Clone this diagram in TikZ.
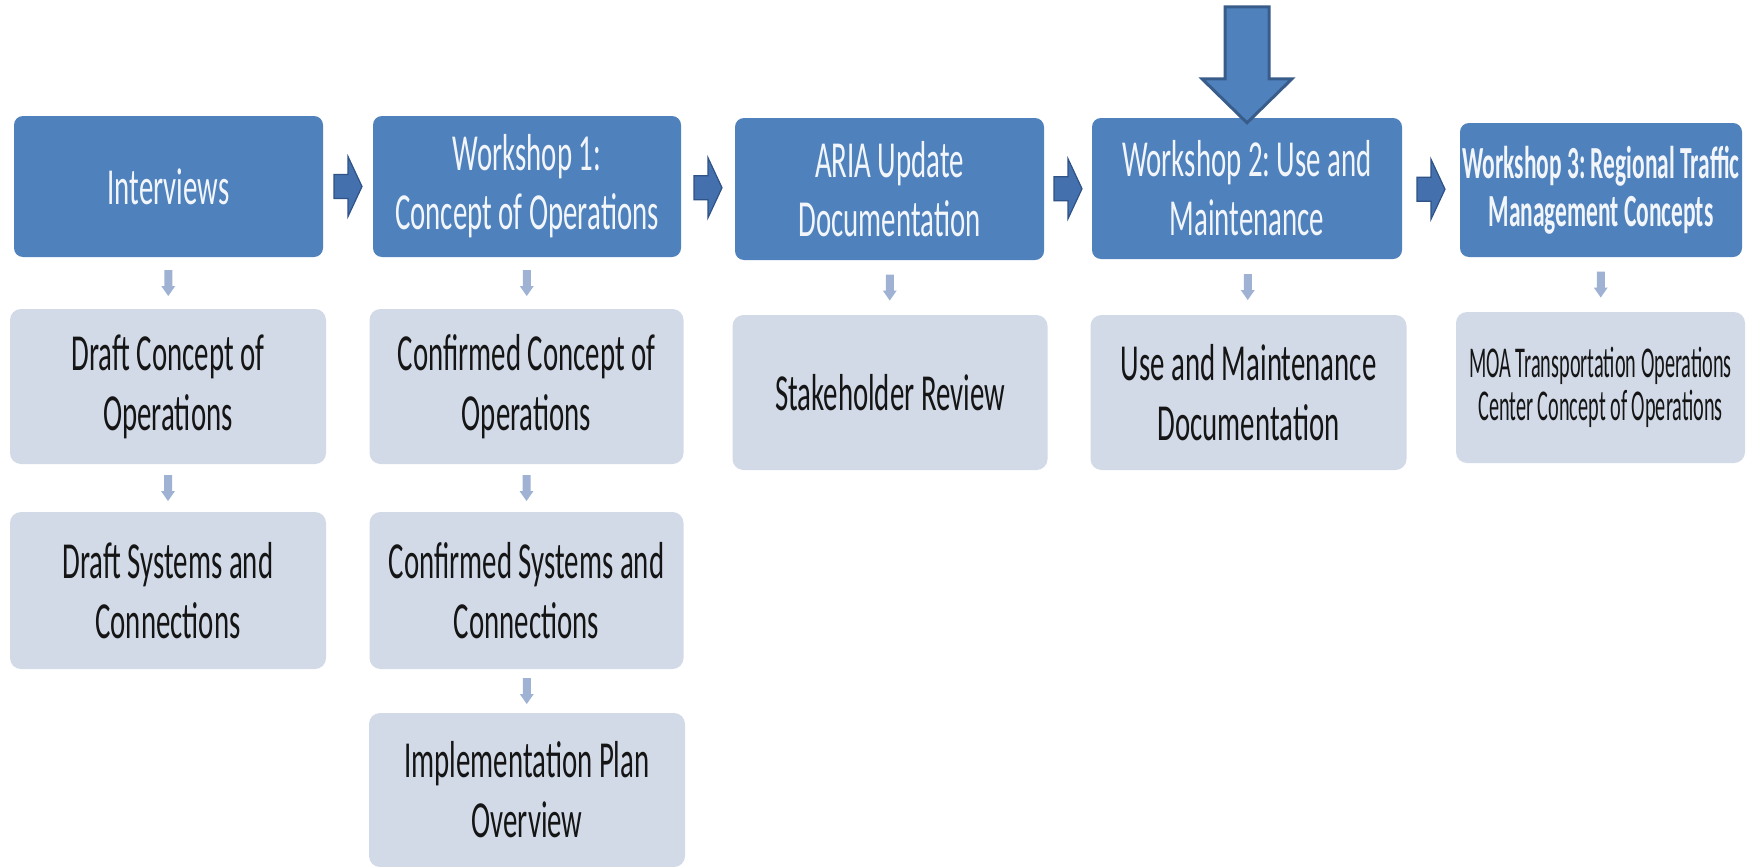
\documentclass[tikz,border=0pt]{standalone}
\usepackage{fontspec}
\newfontfamily\calfont[FakeStretch=0.555]{Carlito}
\newfontfamily\wthreefont[FakeStretch=0.51]{Carlito}
\newfontfamily\moafont[FakeStretch=0.46]{Carlito}
\usetikzlibrary{calc}
\frenchspacing
\definecolor{boxblue}{HTML}{4F81BD}
\definecolor{boxgray}{HTML}{D2DAE8}
\definecolor{textdark}{HTML}{151515}
\definecolor{textlight}{HTML}{F2F6FB}
\definecolor{arrowblue}{HTML}{4470AD}
\definecolor{arrowedge}{HTML}{2F5287}
\definecolor{smallarrow}{HTML}{9FB2D3}
\definecolor{bigedge}{HTML}{385D8A}
\tikzset{
  bluebox/.style={fill=boxblue, draw=none, rounded corners=9pt, text=textlight, align=center, inner sep=0pt,
    font=\calfont\frenchspacing\fontsize{52}{59}\selectfont},
  graybox/.style={fill=boxgray, draw=none, rounded corners=11pt, text=textdark, align=center, inner sep=0pt,
    font=\calfont\frenchspacing\fontsize{52}{60}\selectfont},
  harrow/.style={fill=arrowblue, draw=arrowedge, line width=1.2pt, line join=miter},
  darrow/.style={fill=smallarrow, draw=none},
  bigarrow/.style={fill=boxblue, draw=bigedge, line width=3pt, line join=miter},
  harr/.pic={\path[harrow] (-14,-12) -- (0,-12) -- (0,-30) -- (14,0) -- (0,30) -- (0,12) -- (-14,12) -- cycle;},
  darr/.pic={\path[darrow] (-4,-13) -- (4,-13) -- (4,3) -- (7,3) -- (0,13) -- (-7,3) -- (-4,3) -- cycle;},
  bigarr/.pic={\path[bigarrow] (-22,-116) -- (22,-116) -- (22,-44) -- (45,-44) -- (0,0) -- (-45,-44) -- (-22,-44) -- cycle;}
}
\begin{document}
\begin{tikzpicture}[x=1pt, y=-1pt]
\useasboundingbox[fill=white] (0,0) rectangle (1756,867);
% top row
\node[bluebox, minimum width=309pt, minimum height=141pt] (int) at (168.5,186.5) {Interviews};
\node[bluebox, minimum width=308pt, minimum height=141pt] (ws1) at (527,186.5) {Workshop 1:\\Concept of Operations};
\node[bluebox, minimum width=309pt, minimum height=142pt] (aria) at (889.5,189) {ARIA Update\\Documentation};
\node[bluebox, minimum width=310pt, minimum height=141pt] (ws2) at (1247,188.5) {Workshop 2: Use and\\Maintenance};
\node[bluebox, minimum width=282pt, minimum height=134pt,
  font=\wthreefont\frenchspacing\bfseries\fontsize{46}{48}\selectfont] (ws3) at (1601,190) {Workshop 3: Regional Traffic\\Management Concepts};
% second row
\node[graybox, minimum width=316pt, minimum height=155pt] (dco) at (168,386.5) {Draft Concept of\\Operations};
\node[graybox, minimum width=314pt, minimum height=155pt] (cco) at (526.5,386.5) {Confirmed Concept of\\Operations};
\node[graybox, minimum width=315pt, minimum height=155pt] (srv) at (890,392.5) {Stakeholder Review};
\node[graybox, minimum width=316pt, minimum height=155pt] (umd) at (1248.5,392.5) {Use and Maintenance\\Documentation};
\node[graybox, minimum width=289pt, minimum height=151pt,
  font=\moafont\frenchspacing\fontsize{44}{43}\selectfont] (moa) at (1600.5,387.5) {MOA Transportation Operations\\Center Concept of Operations};
% third row
\node[graybox, minimum width=316pt, minimum height=157pt] (dsc) at (168,590.5) {Draft Systems and\\Connections};
\node[graybox, minimum width=314pt, minimum height=157pt] (csc) at (526.5,590.5) {Confirmed Systems and\\Connections};
% fourth row
\node[graybox, minimum width=316pt, minimum height=154pt] (ipo) at (527,790) {Implementation Plan\\Overview};
% horizontal arrows
\pic at ($(int.east)!0.5!(ws1.west)$) {harr};
\pic at ($(ws1.east)!0.5!(aria.west)$) {harr};
\pic at ($(aria.east)!0.5!(ws2.west)$) {harr};
\pic at ($(ws2.east)!0.5!(ws3.west)$) {harr};
% small down arrows
\pic at ($(int.south)!0.5!(dco.north)$) {darr};
\pic at ($(dco.south)!0.5!(dsc.north)$) {darr};
\pic at ($(ws1.south)!0.5!(cco.north)$) {darr};
\pic at ($(cco.south)!0.5!(csc.north)$) {darr};
\pic at ($(csc.south)!0.5!(ipo.north)$) {darr};
\pic at ($(aria.south)!0.5!(srv.north)$) {darr};
\pic at ($(ws2.south)!0.5!(umd.north)$) {darr};
\pic at ($(ws3.south)!0.5!(moa.north)$) {darr};
% big arrow pointing at workshop 2
\coordinate (tip) at ([yshift=-5pt]ws2.north);
\pic at (tip) {bigarr};
\end{tikzpicture}
\end{document}
